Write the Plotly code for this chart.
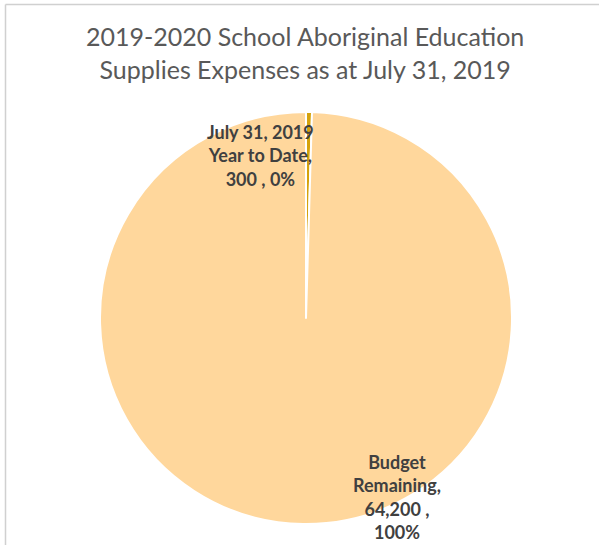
import plotly.graph_objects as go

# Expense categories and amounts
categories = ["July 31, 2019 Year to Date", "Budget Remaining"]
amounts = [300, 64200]
slice_colors = ["#D4A20C", "#FFD79C"]

W, H = 599, 545
total = sum(amounts)
pcts = [round(v / total * 100) for v in amounts]

fig = go.Figure()
fig.add_trace(go.Pie(
    labels=categories,
    values=amounts,
    sort=False,
    direction="clockwise",
    rotation=0,
    textinfo="none",
    hoverinfo="label+value+percent",
    marker=dict(colors=slice_colors, line=dict(color="white", width=2)),
    showlegend=False,
    domain=dict(x=[100 / W, 512 / W], y=[1 - 524 / H, 1 - 112 / H]),
))

def fmt(v):
    return f"{v:,}"

label_font = dict(family="Lato", size=18, color="#404040")
annotations = [
    dict(
        text="<b>July 31, 2019<br>Year to Date,<br>%s , %d%%</b>" % (fmt(amounts[0]), pcts[0]),
        x=260 / W, y=1 - 155 / H, xref="paper", yref="paper",
        xanchor="center", yanchor="middle",
        showarrow=False, font=label_font, align="center",
    ),
    dict(
        text="<b>Budget<br>Remaining,<br>%s ,<br>%d%%</b>" % (fmt(amounts[1]), pcts[1]),
        x=397 / W, y=1 - 497 / H, xref="paper", yref="paper",
        xanchor="center", yanchor="middle",
        showarrow=False, font=label_font, align="center",
    ),
    dict(
        text="2019-2020 School Aboriginal Education<br>Supplies Expenses as at July 31, 2019",
        x=305 / W, y=1 - 53 / H, xref="paper", yref="paper",
        xanchor="center", yanchor="middle",
        showarrow=False, align="center",
        font=dict(family="Lato", size=25, color="#595959"),
    ),
]

# Chart-area frame (top and left edges visible)
shapes = [
    dict(type="line", xref="paper", yref="paper",
         x0=5.5 / W, x1=1.02, y0=1 - 4.5 / H, y1=1 - 4.5 / H,
         line=dict(color="#D0D0D0", width=1.5)),
    dict(type="line", xref="paper", yref="paper",
         x0=5.5 / W, x1=5.5 / W, y0=1 - 4.5 / H, y1=-0.02,
         line=dict(color="#D0D0D0", width=1.5)),
]

fig.update_layout(
    width=W, height=H,
    margin=dict(l=0, r=0, t=0, b=0),
    paper_bgcolor="white",
    plot_bgcolor="white",
    annotations=annotations,
    shapes=shapes,
)

fig.write_html("out.html")
